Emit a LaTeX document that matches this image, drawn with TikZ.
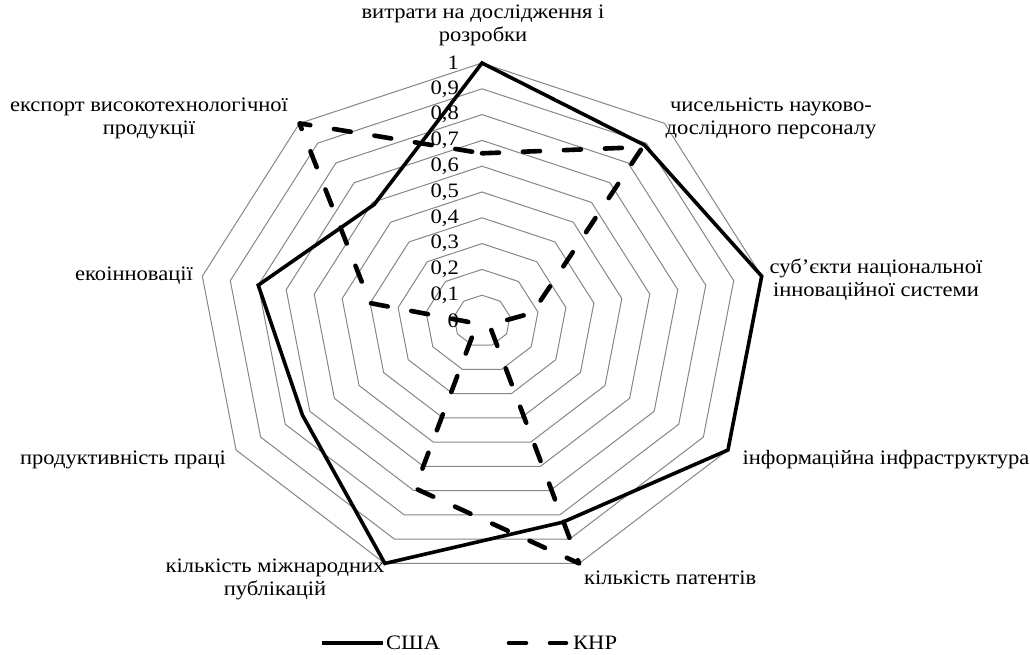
\documentclass[tikz,border=0pt]{standalone}
\usepackage{fontspec}
\setmainfont{Liberation Serif}[FakeStretch=1.1]
\usetikzlibrary{positioning}

\begin{document}
\begin{tikzpicture}[
      x=1pt, y=-1pt,
      every node/.style={font=\fontsize{20.5}{23}\selectfont, inner sep=0pt},
      ring/.style={draw={rgb,255:red,134;green,134;blue,134}, line width=1pt, line join=miter},
      usa_line/.style={line width=3.6pt, line join=miter},
      khp_line/.style={line width=4.6pt, line cap=round, line join=round, dash pattern=on 17pt off 24pt},
      axis_text/.style={align=center},
      tick_text/.style={anchor=east}
  ]
      \useasboundingbox (0,0) rectangle (1030,654);

      % Radar grid and series
      \begin{scope}[shift={(482,321)}, x=284pt, y=258pt]
          \foreach \r in {1,...,10} {
              \draw[ring] (90:\r/10) -- (50:\r/10) -- (10:\r/10) -- (-30:\r/10) -- (-70:\r/10)
                  -- (-110:\r/10) -- (-150:\r/10) -- (170:\r/10) -- (130:\r/10) -- cycle;
          }

          % USA
          \coordinate (usa1) at (90:1.0);
          \coordinate (usa2) at (50:0.89);
          \coordinate (usa3) at (10:1.0);
          \coordinate (usa4) at (-30:1.0);
          \coordinate (usa5) at (-70:0.83);
          \coordinate (usa6) at (-110:1.0);
          \coordinate (usa7) at (-150:0.73);
          \coordinate (usa8) at (170:0.8);
          \coordinate (usa9) at (130:0.59);
          \draw[usa_line] (usa1) -- (usa2) -- (usa3) -- (usa4) -- (usa5) -- (usa6) -- (usa7) -- (usa8) -- (usa9) -- cycle;

          % KHP
          \coordinate (khp1) at (90:0.65);
          \coordinate (khp2) at (50:0.88);
          \coordinate (khp3) at (10:0.18);
          \coordinate (khp4) at (-30:0.03);
          \coordinate (khp5) at (-70:1.0);
          \coordinate (khp6) at (-110:0.69);
          \coordinate (khp7) at (-150:0.02);
          \coordinate (khp8) at (170:0.4);
          \coordinate (khp9) at (130:1.0);
          \draw[khp_line] (khp1) -- (khp2) -- (khp3) -- (khp4) -- (khp5) -- (khp6) -- (khp7) -- (khp8) -- (khp9) -- cycle;
      \end{scope}

      % Scale values
      \node[tick_text] (tick0) at (459,321) {0};
      \foreach \i/\t in {1/{0,1}, 2/{0,2}, 3/{0,3}, 4/{0,4}, 5/{0,5}, 6/{0,6}, 7/{0,7}, 8/{0,8}, 9/{0,9}, 10/1} {
          \node[tick_text] (tick\i) at (459,{321-25.8*\i}) {\t};
      }

      % Axis names
      \node[axis_text] (rnd) at (483,25) {витрати на дослідження і\\розробки};
      \node[axis_text] (staff) at (771,118) {чисельність науково-\\дослідного персоналу};
      \node[axis_text] (nis) at (876,280) {суб'єкти національної\\інноваційної системи};
      \node[axis_text] (infra) at (886,460) {інформаційна інфраструктура};
      \node[axis_text, anchor=west] (patents) at (584,578) {кількість патентів};
      \node[axis_text] (pubs) at (275,579) {кількість міжнародних\\публікацій};
      \node[axis_text] (prod) at (123,460) {продуктивність праці};
      \node[axis_text] (eco) at (134,276) {екоінновації};
      \node[axis_text] (export) at (149,118) {експорт високотехнологічної\\продукції};

      % Legend
      \coordinate (usa_a) at (322,643);
      \coordinate (usa_b) at (383,643);
      \draw[usa_line, line width=4pt] (usa_a) -- (usa_b);
      \node[anchor=west] (usa_key) at (386,643) {США};
      \coordinate (khp_a) at (509,643);
      \coordinate (khp_b) at (566,643);
      \draw[khp_line] (khp_a) -- (khp_b);
      \node[anchor=west] (khp_key) at (573,643) {КНР};
  \end{tikzpicture}
\end{document}
